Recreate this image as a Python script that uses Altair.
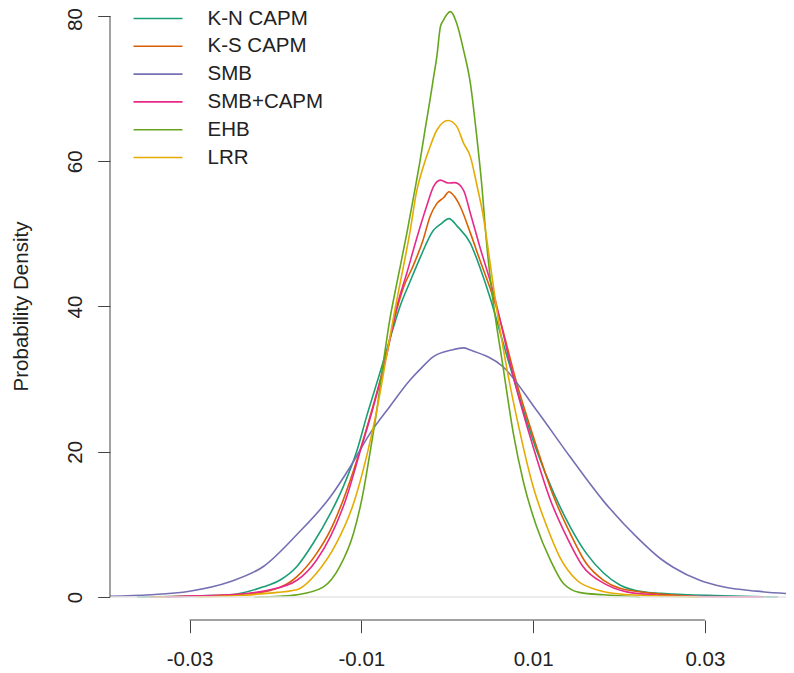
import altair as alt
import pandas as pd

series_names = ["K-N CAPM", "K-S CAPM", "SMB", "SMB+CAPM", "EHB", "LRR"]
series_colors = ["#1B9E77", "#D95F02", "#7570B3", "#E7298A", "#66A61E", "#E6AB02"]

kn_x = [-0.0361, -0.0320, -0.0288, -0.0253, -0.0214, -0.0195, -0.0175, -0.0156, -0.0136, -0.0121, -0.0105, -0.0094,
        -0.0078, -0.0063, -0.0055, -0.0043, -0.0032, -0.0016, -0.0008, 0.0002, 0.0012, 0.0027, 0.0038, 0.0051,
        0.0065, 0.0085, 0.0104, 0.0124, 0.0143, 0.0162, 0.0182, 0.0201, 0.0228, 0.0248, 0.0263, 0.0321, 0.0385]
kn_y = [0, 0.05, 0.15, 0.3, 1.4, 2.3, 4.2, 7.4, 11.5, 15.2, 20.2, 24.8,
        31.0, 37.0, 40.0, 43.5, 46.6, 50.5, 51.3, 52.1, 51.0, 48.7, 45.4, 40.8,
        35.0, 27.1, 20.2, 14.3, 9.7, 6.0, 3.3, 1.65, 0.7, 0.5, 0.4, 0.15, 0]

ks_x = [-0.0346, -0.0300, -0.0253, -0.0214, -0.0175, -0.0152, -0.0136, -0.0121, -0.0105, -0.0090, -0.0074, -0.0061,
        -0.0051, -0.0040, -0.0028, -0.0020, -0.0012, -0.0004, 0.0002, 0.0008, 0.0015, 0.0027, 0.0038, 0.0052,
        0.0058, 0.0081, 0.0104, 0.0124, 0.0143, 0.0162, 0.0182, 0.0201, 0.0240, 0.0294]
ks_y = [0, 0.1, 0.25, 0.7, 2.8, 6.0, 9.2, 13.4, 18.9, 24.8, 31.7, 38.5,
        42.6, 45.5, 49.2, 52.4, 54.2, 55.0, 55.8, 55.2, 53.8, 50.1, 46.4, 41.8,
        39.6, 29.4, 20.7, 13.8, 8.8, 4.6, 2.3, 1.2, 0.5, 0]

smb_x = [-0.0393, -0.0346, -0.0300, -0.0253, -0.0214, -0.0175, -0.0136, -0.0113, -0.0090, -0.0067, -0.0043, -0.0032,
         -0.0016, 0.0005, 0.0019, 0.0027, 0.0065, 0.0104, 0.0143, 0.0182, 0.0221, 0.0248, 0.0263, 0.0294, 0.0321,
         0.0360, 0.0404]
smb_y = [0.1, 0.3, 0.8, 2.1, 4.2, 8.6, 13.8, 17.9, 22.5, 26.2, 29.9, 31.3,
         33.1, 34.0, 34.3, 34.0, 31.7, 25.7, 19.3, 13.2, 8.2, 5.3, 4.1, 2.3, 1.4,
         0.8, 0.4]

sc_x = [-0.0329, -0.0288, -0.0241, -0.0210, -0.0175, -0.0152, -0.0136, -0.0117, -0.0102, -0.0086, -0.0070, -0.0059,
        -0.0047, -0.0036, -0.0024, -0.0016, -0.0008, 0.0001, 0.0009, 0.0019, 0.0027, 0.0038, 0.0052, 0.0079,
        0.0100, 0.0120, 0.0139, 0.0158, 0.0182, 0.0209, 0.0240, 0.0294, 0.0368]
sc_y = [0, 0.15, 0.4, 0.9, 2.3, 5.1, 8.3, 13.8, 19.8, 26.2, 33.6, 39.8,
        44.6, 49.2, 53.8, 56.5, 57.4, 57.0, 57.05, 56.0, 52.8, 48.2, 42.7, 29.4,
        20.7, 13.4, 8.3, 4.2, 1.9, 0.7, 0.3, 0.05, 0]

ehb_x = [-0.0224, -0.0195, -0.0175, -0.0144, -0.0125, -0.0109, -0.0098, -0.0090, -0.0082, -0.0074, -0.0067, -0.0059,
         -0.0047, -0.0037, -0.0032, -0.0026, -0.0020, -0.0016, -0.0012, -0.0008, -0.0005, 0.0004, 0.0011, 0.0019,
         0.0027, 0.0034, 0.0040, 0.0046, 0.0052, 0.0065, 0.0077, 0.0089, 0.0104, 0.0120, 0.0135, 0.0155, 0.0182,
         0.0224]
ehb_y = [0, 0.1, 0.3, 1.4, 4.2, 8.8, 14.3, 19.8, 25.7, 32.6, 38.1, 43.0,
         50.1, 56.5, 59.8, 64.2, 68.5, 71.5, 74.5, 78.5, 79.3, 80.6, 79.0, 75.3,
         70.7, 63.8, 57.0, 48.5, 42.0, 31.7, 22.5, 15.7, 9.7, 5.1, 1.9, 0.6, 0.3,
         0]

lrr_x = [-0.0294, -0.0241, -0.0210, -0.0175, -0.0152, -0.0129, -0.0109, -0.0094, -0.0082, -0.0070, -0.0061, -0.0051,
         -0.0043, -0.0036, -0.0028, -0.0020, -0.0012, 0.0001, 0.0011, 0.0019, 0.0027, 0.0034, 0.0042, 0.0050,
         0.0056, 0.0069, 0.0085, 0.0100, 0.0116, 0.0131, 0.0151, 0.0174, 0.0201, 0.0240, 0.0294]
lrr_y = [0, 0.2, 0.5, 1.0, 3.3, 7.4, 12.9, 19.3, 25.7, 33.6, 39.5, 45.5,
         50.5, 55.6, 59.2, 62.0, 64.3, 65.6, 64.8, 62.5, 60.6, 57.0, 52.4, 45.9,
         40.9, 31.7, 22.5, 15.2, 9.7, 5.5, 2.3, 1.0, 0.4, 0.15, 0]

x_ticks = [-0.03, -0.01, 0.01, 0.03]
y_ticks = [0, 20, 40, 60, 80]
x_domain = [-0.03926, 0.03944]
y_domain = [-3.17, 81.1]
y_title = "Probability Density"

all_x = [kn_x, ks_x, smb_x, sc_x, ehb_x, lrr_x]
all_y = [kn_y, ks_y, smb_y, sc_y, ehb_y, lrr_y]
rows = []
for k, (name, xs, ys) in enumerate(zip(series_names, all_x, all_y)):
    for i, (xv, yv) in enumerate(zip(xs, ys)):
        rows.append({"series": name, "x": xv, "y": yv, "k": k, "i": i})
df = pd.DataFrame(rows)

W, H = 676, 612
FONT = "Liberation Sans"
FS = 20.5
AX = "#444444"
TXT = "#222222"

xscale = alt.Scale(domain=x_domain, nice=False, zero=False)
yscale = alt.Scale(domain=y_domain, nice=False, zero=False)

zero_line = alt.Chart(pd.DataFrame({"y": [0]})).mark_rule(color="#e6e6e6", strokeWidth=1.5).encode(
    y=alt.Y("y:Q", scale=yscale)
)

lines = alt.Chart(df).mark_line(strokeWidth=1.6, interpolate="monotone", clip=True).encode(
    x=alt.X("x:Q", scale=xscale,
            axis=alt.Axis(values=x_ticks, grid=False, domain=False, title=None,
                          tickColor=AX, tickSize=12.7, tickWidth=1,
                          labelFont=FONT, labelFontSize=FS, labelColor=TXT, labelPadding=16.5,
                          labelExpr="datum.value < 0 ? '-' + format(-datum.value, '.2f') : format(datum.value, '.2f')")),
    y=alt.Y("y:Q", scale=yscale,
            axis=alt.Axis(values=y_ticks, grid=False, domain=False, title=y_title,
                          tickColor=AX, tickSize=12.3, tickWidth=1,
                          labelFont=FONT, labelFontSize=FS, labelColor=TXT, labelPadding=11.8,
                          labelAngle=270, labelAlign="center", labelBaseline="bottom",
                          labelOffset={"condition": {"test": "datum.value == 80", "value": 3}, "value": 0},
                          titleFont=FONT, titleFontSize=FS, titleFontWeight="normal", titleColor=TXT,
                          titleAngle=270, titleX=-82.6, titleY=298, titleAlign="center",
                          titleBaseline="alphabetic")),
    color=alt.Color("series:N", sort=series_names,
                    scale=alt.Scale(domain=series_names, range=series_colors),
                    legend=alt.Legend(orient="none", legendX=37, legendY=-0.5, title=None,
                                      symbolType="M-2.45,0H2.45", symbolSize=400, symbolStrokeWidth=1.6,
                                      labelFont=FONT, labelFontSize=FS, labelColor=TXT,
                                      rowPadding=5.8, labelOffset=38.5, padding=0)),
    detail="k:N",
    order="i:Q",
)

yaxis_line = alt.Chart(pd.DataFrame({"y": [y_ticks[0]], "y2": [y_ticks[-1]]})).mark_rule(
    color=AX, strokeWidth=1).encode(x=alt.value(0), y=alt.Y("y:Q", scale=yscale), y2="y2:Q")
xaxis_line = alt.Chart(pd.DataFrame({"x": [x_ticks[0]], "x2": [x_ticks[-1]]})).mark_rule(
    color=AX, strokeWidth=1).encode(y=alt.value(H), x=alt.X("x:Q", scale=xscale), x2="x2:Q")

chart = alt.layer(lines, zero_line, yaxis_line, xaxis_line).properties(
    width=W, height=H,
    autosize=alt.AutoSizeParams(type="none"),
    padding={"left": 102, "top": 0, "right": 0, "bottom": 53},
).configure_view(stroke=None)

chart.save("out.html", embed_options={"renderer": "svg", "actions": False})
